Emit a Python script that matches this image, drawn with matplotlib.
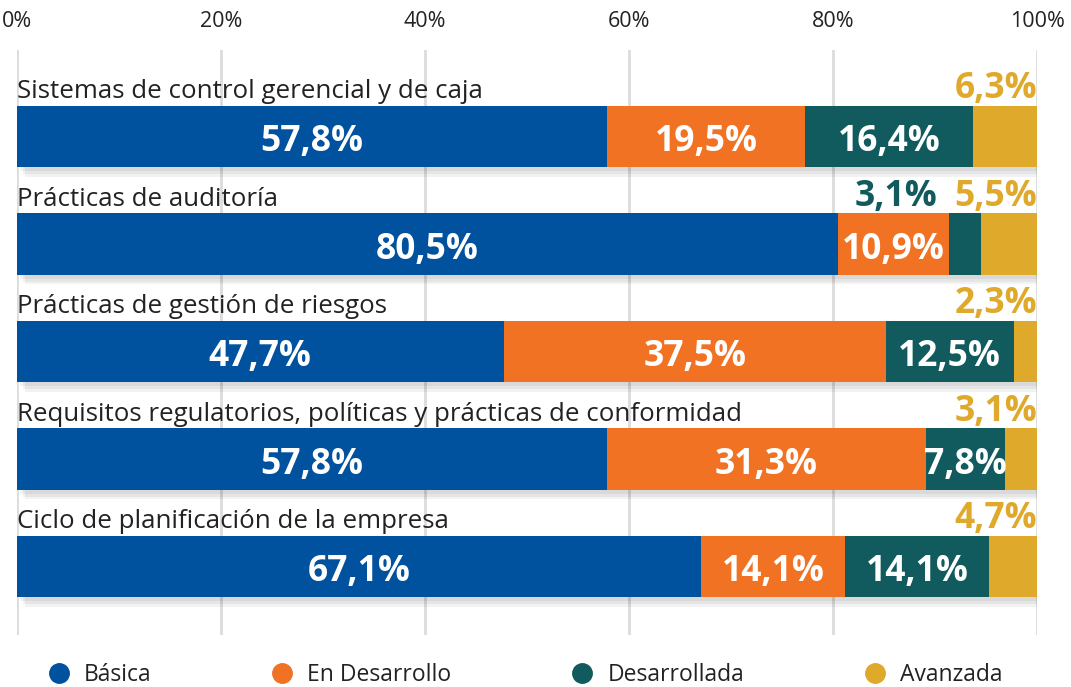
import matplotlib
matplotlib.use("Agg")
import matplotlib.pyplot as plt
import matplotlib.patheffects as pe
from matplotlib.lines import Line2D
import numpy as np

plt.rcParams['font.family'] = ['Open Sans', 'DejaVu Sans']

categories = [
    "Sistemas de control gerencial y de caja",
    "Prácticas de auditoría",
    "Prácticas de gestión de riesgos",
    "Requisitos regulatorios, políticas y prácticas de conformidad",
    "Ciclo de planificación de la empresa",
]
levels = ["Básica", "En Desarrollo", "Desarrollada", "Avanzada"]
basica = [57.8, 80.5, 47.7, 57.8, 67.1]
en_desarrollo = [19.5, 10.9, 37.5, 31.3, 14.1]
desarrollada = [16.4, 3.1, 12.5, 7.8, 14.1]
avanzada = [6.3, 5.5, 2.3, 3.1, 4.7]
ticks = [0, 20, 40, 60, 80, 100]

series = [basica, en_desarrollo, desarrollada, avanzada]
colors = ['#00519E', '#F27224', '#115B5E', '#DFA92B']

fig = plt.figure(figsize=(10.71, 6.87), dpi=100)
ax = fig.add_axes([17 / 1071, 1 - 635 / 687, 1020 / 1071, 585 / 687])

y = np.arange(len(categories))
height = 0.57
# soft drop shadow made of a few faint layers
shadow = [pe.SimplePatchShadow(offset=(o, -o - 1), shadow_rgbFace='#000000', alpha=0.05)
          for o in (2, 4, 6)] + [pe.Normal()]

left = np.zeros(len(categories))
for vals, col in zip(series, colors):
    bars = ax.barh(y, vals, height, left=left, color=col, zorder=3)
    for b in bars:
        b.set_path_effects(shadow)
    left = left + np.array(vals)

ax.set_xlim(0, 100)
ax.set_ylim(4.637, -0.805)
ax.set_xticks(ticks)
ax.set_xticklabels([f"{t}%" for t in ticks])
ax.xaxis.tick_top()
ax.tick_params(axis='x', length=0, pad=13, labelsize=15.5, labelcolor='#222222')
ax.set_yticks([])
for s in ax.spines.values():
    s.set_visible(False)
ax.grid(axis='x', color='#dcdcdc', linewidth=2, zorder=0)

for i, cat in enumerate(categories):
    ax.text(0, i - 0.358, cat, ha='left', va='baseline', fontsize=18.6, color='#222222')
    start = 0.0
    outside = []
    for k, vals in enumerate(series):
        v = vals[i]
        lbl = f"{v:.1f}".replace('.', ',') + '%'
        if v >= 7:
            ax.text(start + v / 2, i + 0.01, lbl, ha='center', va='center_baseline',
                    fontsize=25.5, fontweight='bold', color='white', zorder=5)
        else:
            outside.append((lbl, colors[k]))
        start += v
    prev = None
    for lbl, col in reversed(outside):
        if prev is None:
            prev = ax.text(100, i - 0.358, lbl, ha='right', va='baseline',
                           fontsize=25.5, fontweight='bold', color=col, zorder=5)
        else:
            prev = ax.annotate(lbl, xy=(0, 0), xycoords=prev, xytext=(-17, 0),
                               textcoords='offset pixels', ha='right', va='bottom',
                               fontsize=25.5, fontweight='bold', color=col, zorder=5)

handles = [Line2D([], [], linestyle='none', marker='o', markersize=14,
                  markerfacecolor=c, markeredgecolor=c) for c in colors]
fig.legend(handles, levels, loc='center', bbox_to_anchor=(0.49, 0.018), ncol=4,
           frameon=False, fontsize=16.5, handletextpad=0.6, columnspacing=5.2,
           handlelength=1.0, labelcolor='#222222')

fig.savefig("out.png", dpi=100)
